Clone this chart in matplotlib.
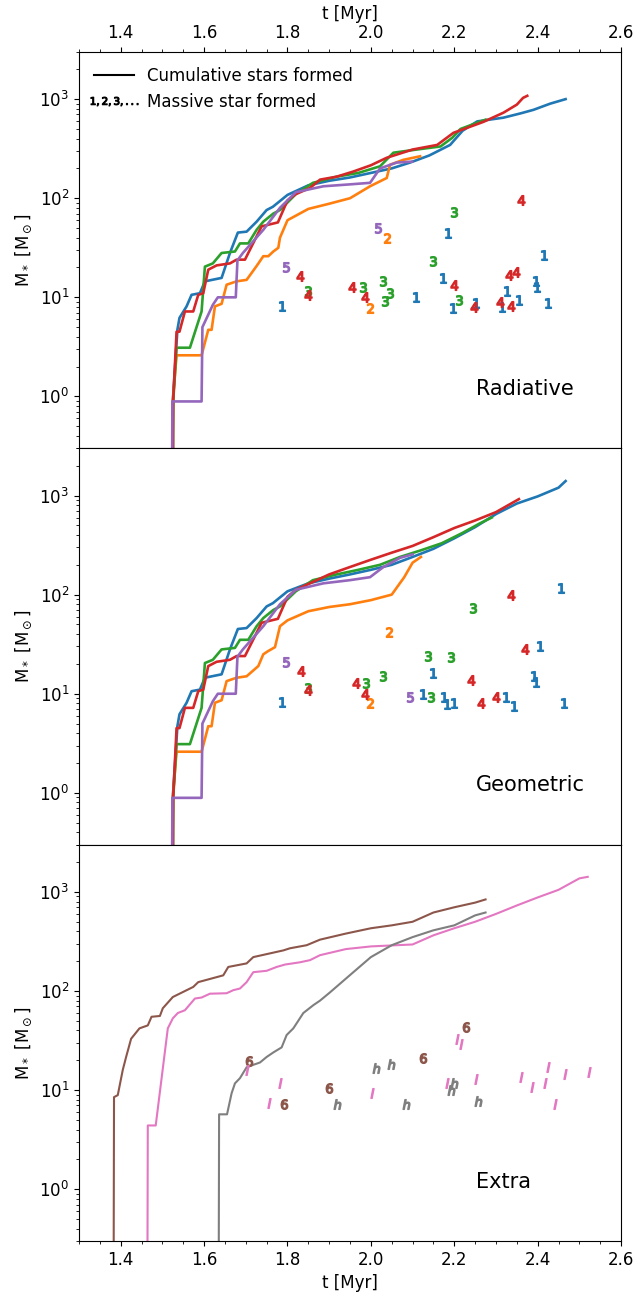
import matplotlib
matplotlib.use('Agg')
import matplotlib.pyplot as plt
from matplotlib.lines import Line2D
from matplotlib.ticker import MultipleLocator

# ---------------- Panel 1: Radiative ----------------
rad_blue_t = [1.524, 1.525, 1.536, 1.541, 1.558, 1.570, 1.590, 1.602, 1.642, 1.662, 1.681, 1.702, 1.726, 1.750, 1.765, 1.80, 1.85, 1.90, 1.95, 2.00, 2.05, 2.094, 2.14, 2.19, 2.22, 2.255, 2.318, 2.36, 2.39, 2.43, 2.467]
rad_blue_m = [0.1, 0.9, 4.7, 6.2, 8.1, 10.6, 11, 14.5, 15.7, 28, 45, 46, 58, 76, 82, 108, 135, 150, 162, 180, 200, 229, 270, 345, 480, 596, 650, 720, 780, 900, 1000]
rad_red_t = [1.525, 1.526, 1.534, 1.541, 1.554, 1.574, 1.586, 1.598, 1.610, 1.630, 1.662, 1.678, 1.698, 1.738, 1.777, 1.80, 1.82, 1.854, 1.878, 1.918, 1.958, 2.0, 2.038, 2.10, 2.159, 2.198, 2.27, 2.318, 2.35, 2.365, 2.375]
rad_red_m = [0.1, 0.93, 4.5, 4.5, 7.2, 7.2, 10.6, 11, 19, 21, 22, 24, 24, 52, 57, 95, 110, 127, 154, 165, 186, 215, 256, 310, 345, 457, 590, 730, 880, 1030, 1080]
rad_green_t = [1.525, 1.526, 1.534, 1.566, 1.594, 1.602, 1.621, 1.642, 1.674, 1.686, 1.706, 1.726, 1.742, 1.766, 1.782, 1.82, 1.861, 1.918, 1.97, 2.022, 2.054, 2.11, 2.167, 2.195, 2.215, 2.263, 2.275]
rad_green_m = [0.1, 0.9, 3.1, 3.1, 7.2, 20.4, 22, 28, 29, 35, 35, 48, 58, 70, 76, 110, 143, 165, 180, 210, 288, 310, 333, 407, 500, 595, 620]
rad_orange_t = [1.524, 1.525, 1.534, 1.594, 1.610, 1.618, 1.626, 1.642, 1.654, 1.678, 1.702, 1.727, 1.742, 1.754, 1.766, 1.778, 1.782, 1.80, 1.85, 1.90, 1.95, 1.998, 2.038, 2.046, 2.078, 2.118]
rad_orange_m = [0.1, 0.9, 2.6, 2.6, 4.7, 4.7, 8.1, 8.6, 13.4, 14.5, 15, 21, 26, 26, 29, 31.6, 40, 60, 78, 88, 100, 132, 160, 218, 244, 265]
rad_purple_t = [1.523, 1.524, 1.594, 1.596, 1.621, 1.633, 1.676, 1.680, 1.693, 1.742, 1.782, 1.82, 1.886, 1.95, 1.998, 2.022, 2.062, 2.099]
rad_purple_m = [0.1, 0.89, 0.89, 5.0, 8.4, 10, 10, 23.6, 28, 48, 80, 115, 132, 138, 143, 200, 229, 234]

rad_m1_t = [2.185, 2.415, 2.172, 1.788, 2.109, 2.197, 2.251, 2.327, 2.355, 2.315, 2.397, 2.399, 2.425]
rad_m1_m = [45, 27, 15.7, 8.1, 10, 7.8, 8.7, 11.5, 9.5, 7.9, 14.5, 12.7, 8.7]
rad_m2_t = [2.038, 1.997]
rad_m2_m = [40, 7.8]
rad_m3_t = [2.199, 2.148, 1.981, 2.030, 2.045, 2.034, 1.850, 2.211]
rad_m3_m = [73, 23, 12.7, 14.7, 11, 9.1, 11.5, 9.5]
rad_m4_t = [2.359, 1.830, 2.331, 2.347, 2.199, 1.954, 1.985, 1.850, 2.248, 2.309, 2.335]
rad_m4_m = [96, 16.6, 16.9, 18.2, 13.4, 12.7, 10, 10.5, 8, 8.9, 8.1]
rad_m5_t = [2.017, 1.796]
rad_m5_m = [50, 20.2]

# ---------------- Panel 2: Geometric ----------------
geo_blue_t = [1.524, 1.525, 1.536, 1.541, 1.558, 1.570, 1.590, 1.602, 1.642, 1.662, 1.681, 1.702, 1.726, 1.750, 1.765, 1.80, 1.85, 1.90, 1.95, 2.00, 2.05, 2.10, 2.15, 2.20, 2.25, 2.30, 2.35, 2.40, 2.45, 2.467]
geo_blue_m = [0.1, 0.9, 4.7, 6.2, 8.1, 10.6, 11, 14.5, 15.7, 28, 45, 46, 58, 76, 82, 108, 130, 145, 160, 178, 200, 240, 290, 370, 480, 650, 830, 980, 1200, 1400]
geo_red_t = [1.525, 1.526, 1.534, 1.541, 1.554, 1.574, 1.586, 1.598, 1.610, 1.630, 1.662, 1.678, 1.698, 1.738, 1.777, 1.80, 1.82, 1.854, 1.90, 1.95, 2.0, 2.05, 2.10, 2.15, 2.20, 2.25, 2.30, 2.355]
geo_red_m = [0.1, 0.93, 4.5, 4.5, 7.2, 7.2, 10.6, 11, 19, 21, 22, 24, 24, 52, 57, 95, 112, 130, 160, 190, 225, 265, 310, 380, 470, 560, 680, 920]
geo_green_t = [1.525, 1.526, 1.534, 1.566, 1.594, 1.602, 1.621, 1.642, 1.674, 1.686, 1.706, 1.726, 1.742, 1.766, 1.782, 1.82, 1.861, 1.918, 1.97, 2.022, 2.07, 2.12, 2.17, 2.22, 2.26, 2.29]
geo_green_m = [0.1, 0.9, 3.1, 3.1, 7.2, 20.4, 22, 28, 29, 35, 35, 48, 58, 70, 76, 108, 140, 160, 178, 200, 240, 280, 330, 420, 520, 600]
geo_orange_t = [1.524, 1.525, 1.534, 1.594, 1.610, 1.618, 1.626, 1.642, 1.654, 1.678, 1.702, 1.730, 1.742, 1.754, 1.770, 1.782, 1.80, 1.85, 1.90, 1.95, 2.00, 2.05, 2.08, 2.10, 2.12]
geo_orange_m = [0.1, 0.9, 2.6, 2.6, 4.7, 4.7, 8.1, 8.6, 13.4, 14.5, 15, 19, 25, 27, 29.5, 48, 55, 68, 75, 80, 88, 100, 150, 210, 240]
geo_purple_t = [1.523, 1.524, 1.594, 1.596, 1.621, 1.633, 1.676, 1.680, 1.693, 1.742, 1.782, 1.82, 1.886, 1.95, 1.998, 2.03, 2.07, 2.10]
geo_purple_m = [0.1, 0.89, 0.89, 5.0, 8.4, 10, 10, 23.6, 28, 48, 80, 112, 130, 140, 150, 190, 235, 255]

geo_m1_t = [2.457, 2.405, 2.149, 1.788, 2.125, 2.176, 2.183, 2.199, 2.324, 2.344, 2.463, 2.391, 2.397]
geo_m1_m = [118, 30, 16.2, 8.2, 10, 9.2, 7.9, 8.0, 9.2, 7.6, 8.0, 15, 13]
geo_m2_t = [2.043, 1.998]
geo_m2_m = [42, 8]
geo_m3_t = [2.245, 2.138, 2.193, 2.030, 1.989, 1.850, 2.143]
geo_m3_m = [73, 24, 23.4, 15, 12.8, 11.4, 9.3]
geo_m4_t = [2.337, 2.369, 1.832, 1.965, 1.985, 2.239, 1.850, 2.265, 2.301]
geo_m4_m = [98, 28, 17, 12.8, 10, 13.8, 10.8, 8.0, 9.2]
geo_m5_t = [1.796, 2.093]
geo_m5_m = [20.7, 9.3]

# ---------------- Panel 3: Extra ----------------
ext_brown_t = [1.383, 1.384, 1.393, 1.405, 1.413, 1.425, 1.445, 1.465, 1.474, 1.494, 1.501, 1.525, 1.574, 1.586, 1.646, 1.658, 1.702, 1.718, 1.790, 1.806, 1.846, 1.878, 1.94, 2.00, 2.05, 2.10, 2.15, 2.20, 2.25, 2.275]
ext_brown_m = [0.1, 8.5, 8.9, 16, 21.6, 33, 42, 45, 55, 56, 67, 87, 110, 123, 144, 175, 190, 220, 257, 270, 290, 330, 380, 430, 460, 500, 620, 700, 780, 840]
ext_pink_t = [1.464, 1.465, 1.484, 1.513, 1.525, 1.537, 1.554, 1.578, 1.594, 1.614, 1.654, 1.670, 1.686, 1.702, 1.718, 1.750, 1.774, 1.794, 1.830, 1.854, 1.878, 1.94, 2.00, 2.10, 2.15, 2.20, 2.25, 2.30, 2.35, 2.40, 2.45, 2.50, 2.52]
ext_pink_m = [0.1, 4.4, 4.4, 42, 53, 60, 64, 84, 86, 94, 95, 102, 106, 123, 155, 160, 175, 185, 195, 205, 230, 265, 282, 295, 365, 430, 500, 600, 730, 880, 1050, 1370, 1420]
ext_gray_t = [1.635, 1.636, 1.655, 1.666, 1.674, 1.686, 1.702, 1.718, 1.734, 1.750, 1.766, 1.786, 1.798, 1.814, 1.838, 1.862, 1.878, 1.902, 1.95, 2.00, 2.05, 2.10, 2.15, 2.20, 2.25, 2.275]
ext_gray_m = [0.1, 5.7, 5.7, 9.3, 11.7, 13.2, 17, 18, 19, 21.6, 24, 27, 36, 42, 60, 72, 80, 97, 145, 220, 290, 350, 410, 460, 580, 620]

ext_m6_t = [2.228, 2.124, 1.708, 1.792, 1.900]
ext_m6_m = [43.6, 21.2, 19.6, 7.2, 10.5]
ext_mh_t = [2.013, 2.048, 1.918, 2.085, 2.199, 2.191, 2.257]
ext_mh_m = [16.8, 18.4, 7.3, 7.2, 11.8, 10.0, 7.7]
ext_ml_t = [2.207, 2.217, 1.704, 1.782, 1.756, 2.002, 2.183, 2.251, 2.361, 2.387, 2.425, 2.417, 2.465, 2.441, 2.523]
ext_ml_m = [33, 29.5, 16.1, 11.8, 7.5, 9.4, 11.8, 13.1, 13.5, 10.7, 17.2, 11.8, 14.4, 7.2, 15.1]

xlim = (1.3, 2.6)
ylim = (0.3, 3000)
panel_names = ['Radiative', 'Geometric', 'Extra']

plt.rcParams['font.family'] = ['DejaVu Sans']
fig, axes = plt.subplots(3, 1, figsize=(6.37, 12.96), dpi=100, sharex=True)
fig.subplots_adjust(left=0.124, right=0.975, top=0.96, bottom=0.0424, hspace=0)

C = {'blue': 'tab:blue', 'orange': 'tab:orange', 'green': 'tab:green',
     'red': 'tab:red', 'purple': 'tab:purple', 'brown': 'tab:brown',
     'pink': 'tab:pink', 'gray': 'tab:gray'}
LW = 1.9
MS = 7
MEW = 1.0

ax = axes[0]
ax.plot(rad_blue_t, rad_blue_m, color=C['blue'], lw=LW)
ax.plot(rad_orange_t, rad_orange_m, color=C['orange'], lw=LW)
ax.plot(rad_green_t, rad_green_m, color=C['green'], lw=LW)
ax.plot(rad_red_t, rad_red_m, color=C['red'], lw=LW)
ax.plot(rad_purple_t, rad_purple_m, color=C['purple'], lw=LW)
for t, m, mk, c in [(rad_m1_t, rad_m1_m, '$1$', 'blue'), (rad_m2_t, rad_m2_m, '$2$', 'orange'),
                    (rad_m3_t, rad_m3_m, '$3$', 'green'), (rad_m4_t, rad_m4_m, '$4$', 'red'),
                    (rad_m5_t, rad_m5_m, '$5$', 'purple')]:
    ax.plot(t, m, ls='none', marker=mk, color=C[c], ms=MS, mew=MEW)

ax = axes[1]
ax.plot(geo_blue_t, geo_blue_m, color=C['blue'], lw=LW)
ax.plot(geo_orange_t, geo_orange_m, color=C['orange'], lw=LW)
ax.plot(geo_green_t, geo_green_m, color=C['green'], lw=LW)
ax.plot(geo_red_t, geo_red_m, color=C['red'], lw=LW)
ax.plot(geo_purple_t, geo_purple_m, color=C['purple'], lw=LW)
for t, m, mk, c in [(geo_m1_t, geo_m1_m, '$1$', 'blue'), (geo_m2_t, geo_m2_m, '$2$', 'orange'),
                    (geo_m3_t, geo_m3_m, '$3$', 'green'), (geo_m4_t, geo_m4_m, '$4$', 'red'),
                    (geo_m5_t, geo_m5_m, '$5$', 'purple')]:
    ax.plot(t, m, ls='none', marker=mk, color=C[c], ms=MS, mew=MEW)

ax = axes[2]
ax.plot(ext_brown_t, ext_brown_m, color=C['brown'], lw=1.5)
ax.plot(ext_pink_t, ext_pink_m, color=C['pink'], lw=1.5)
ax.plot(ext_gray_t, ext_gray_m, color=C['gray'], lw=1.5)
ax.plot(ext_m6_t, ext_m6_m, ls='none', marker='$6$', color=C['brown'], ms=MS, mew=MEW)
ax.plot(ext_mh_t, ext_mh_m, ls='none', marker='$h$', color=C['gray'], ms=MS, mew=MEW)
ax.plot(ext_ml_t, ext_ml_m, ls='none', marker='$l$', color=C['pink'], ms=MS, mew=MEW)

for ax, name in zip(axes, panel_names):
    ax.set_yscale('log')
    ax.set_xlim(*xlim)
    ax.set_ylim(*ylim)
    ax.set_ylabel(r'M$_*$ [M$_\odot$]', fontsize=12)
    ax.xaxis.set_major_locator(MultipleLocator(0.2))
    ax.xaxis.set_minor_locator(MultipleLocator(0.05))
    ax.tick_params(labelsize=12)
    ax.text(0.733, 0.15, name, transform=ax.transAxes, fontsize=15, va='center', ha='left')

axes[0].tick_params(axis='x', which='both', top=True, labeltop=True, bottom=False, labelbottom=False)
axes[0].xaxis.set_label_position('top')
axes[0].set_xlabel('t [Myr]', fontsize=12)
axes[1].tick_params(axis='x', which='both', bottom=False)
axes[2].set_xlabel('t [Myr]', fontsize=12)

handles = [Line2D([], [], color='k', lw=1.5),
           Line2D([], [], ls='none', marker=r'$1,2,3,...$', color='k', ms=34, mew=0.8)]
axes[0].legend(handles, ['Cumulative stars formed', 'Massive star formed'], loc='upper left',
               frameon=False, fontsize=12, handlelength=2.4)

fig.savefig('out.png', dpi=100)
